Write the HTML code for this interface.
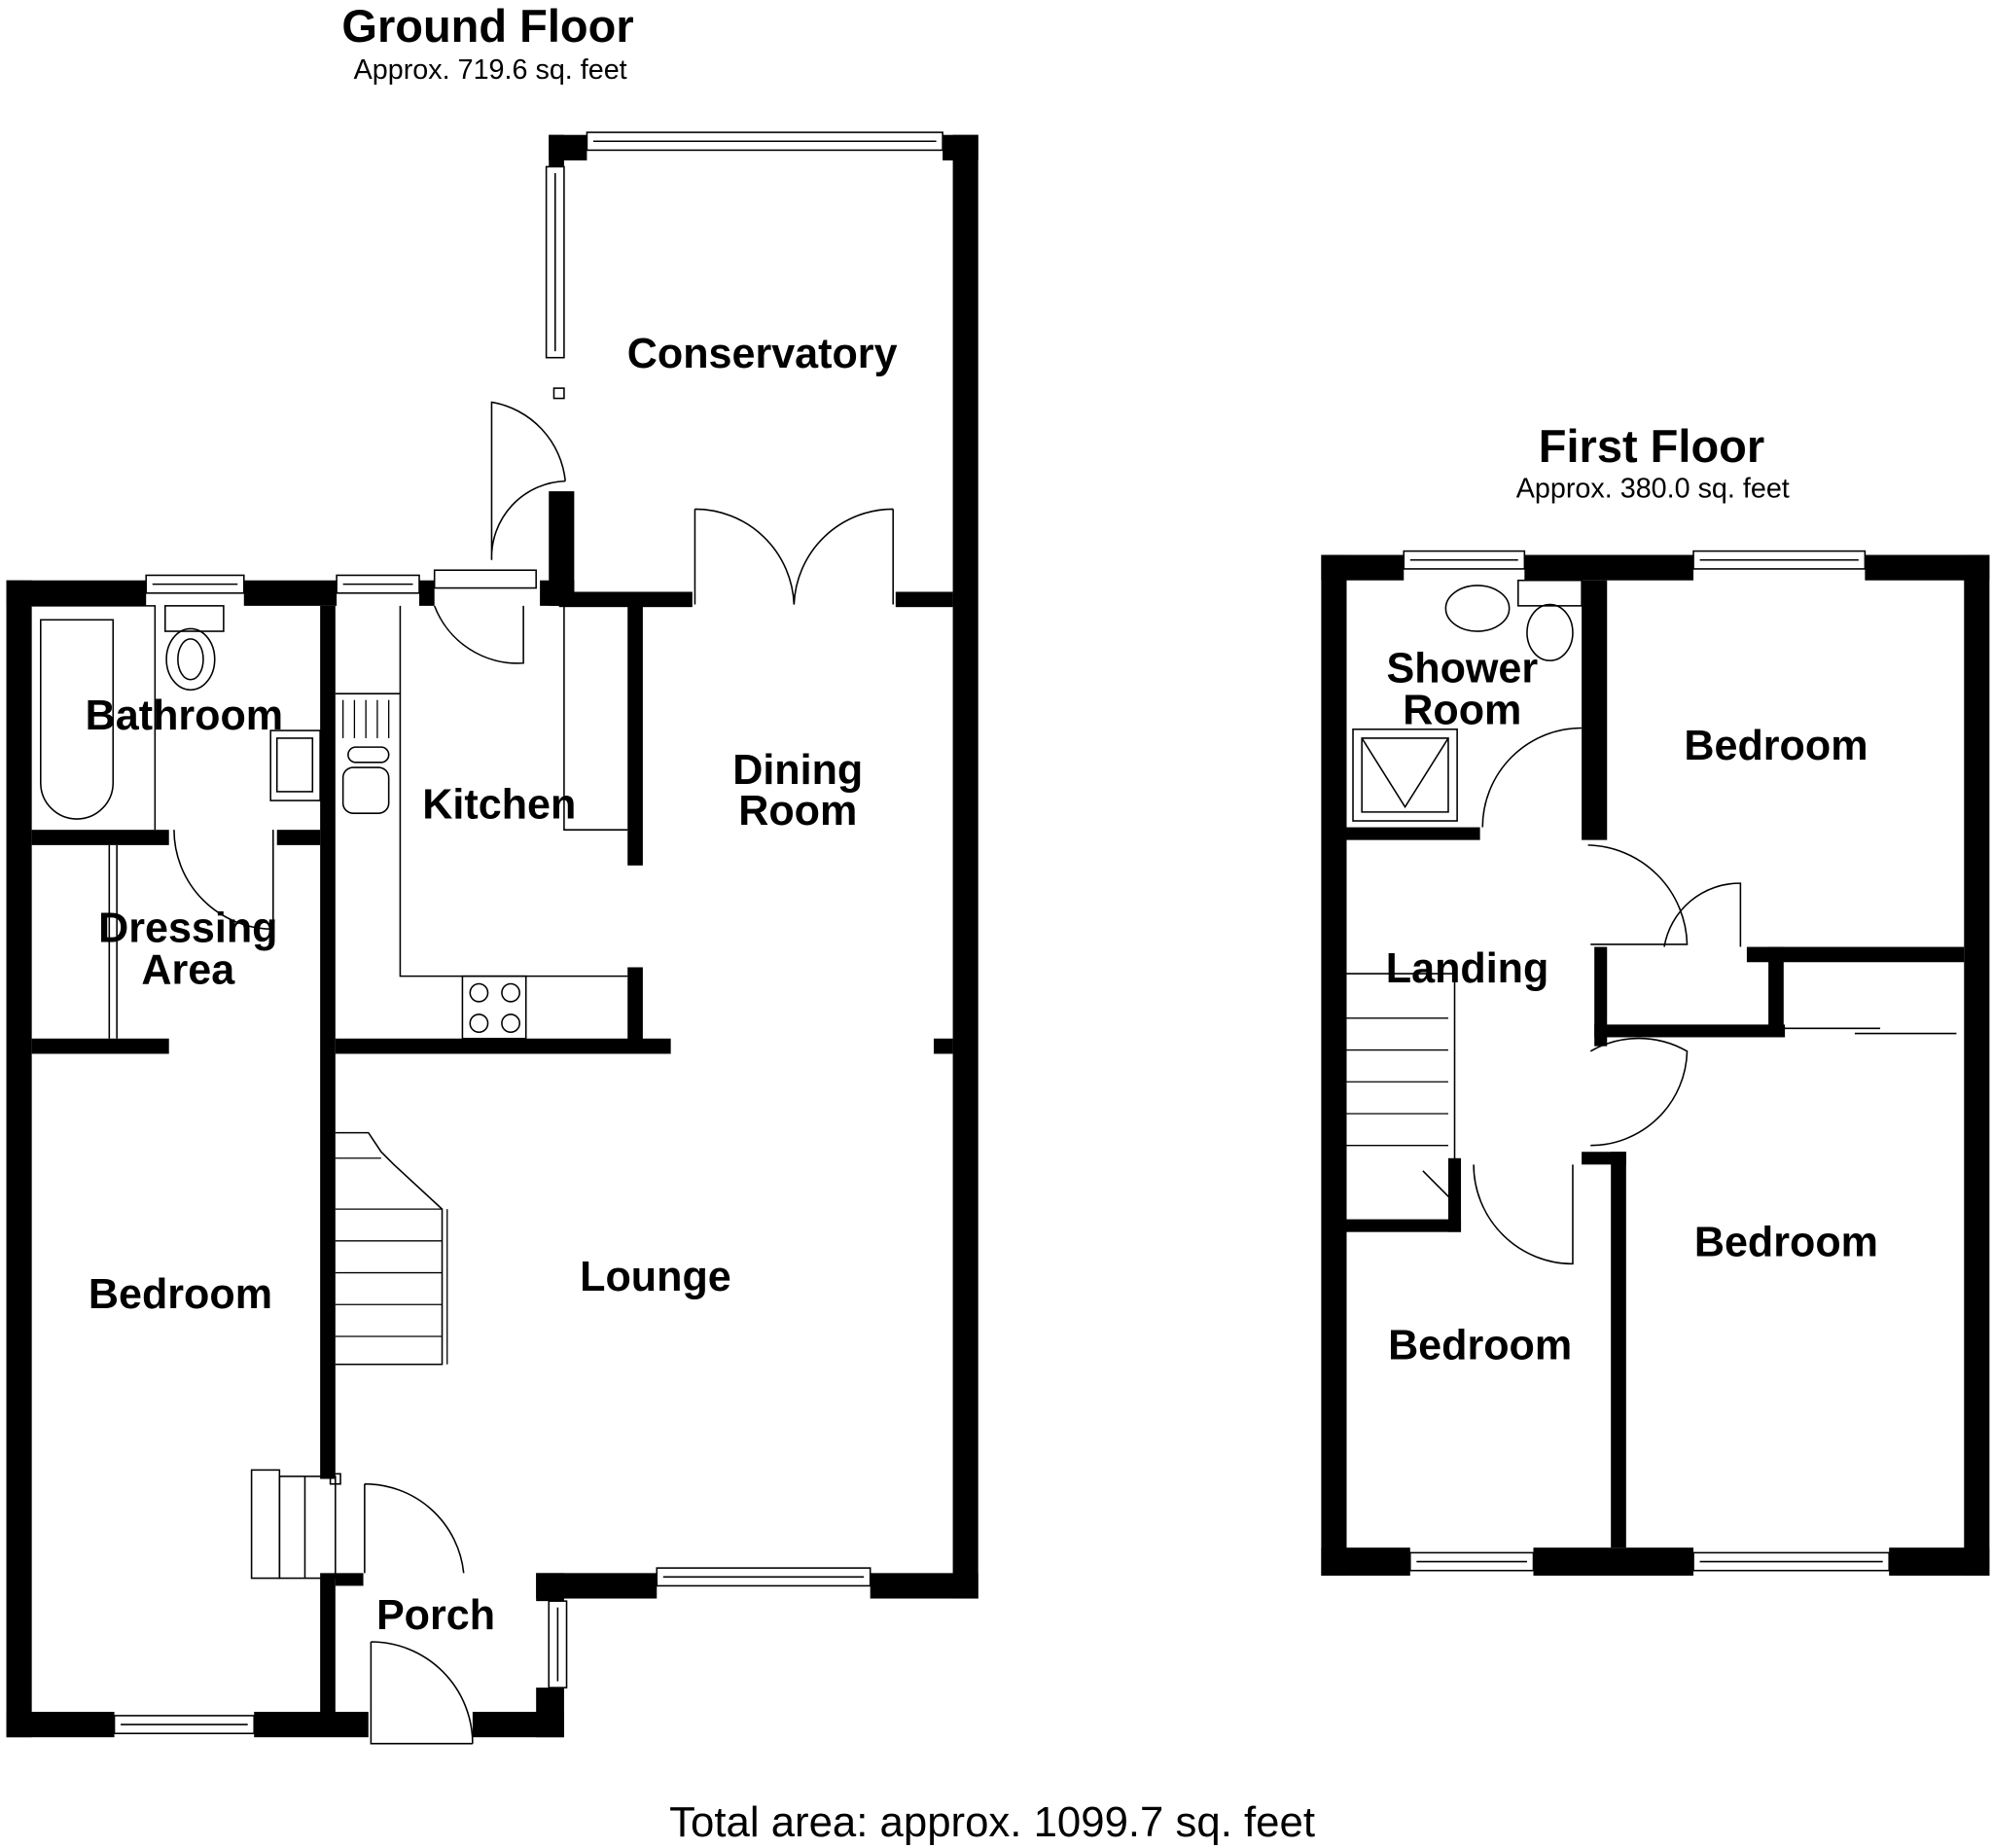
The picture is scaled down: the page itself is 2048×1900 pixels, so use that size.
<!DOCTYPE html>
<html><head><meta charset="utf-8"><style>
html,body{margin:0;padding:0;background:#fff;}
svg{display:block;}
text{font-family:"Liberation Sans",sans-serif;fill:#000;}
.b{font-weight:bold;font-size:33px;}
</style></head><body>
<svg width="2048" height="1900" viewBox="0 0 1568 1452" preserveAspectRatio="none" xmlns="http://www.w3.org/2000/svg">
<rect width="1568" height="1452" fill="#fff"/>
<g fill="#000">
<rect x="5" y="456" width="20" height="909"/>
<rect x="5" y="456" width="110" height="20"/>
<rect x="192" y="456" width="73" height="20"/>
<rect x="330" y="456" width="12" height="20"/>
<rect x="425" y="456" width="27" height="20"/>
<rect x="432" y="386" width="20" height="90"/>
<rect x="432" y="106" width="12" height="25"/>
<rect x="432" y="106" width="30" height="20"/>
<rect x="742" y="106" width="28" height="20"/>
<rect x="750" y="106" width="20" height="1150"/>
<rect x="440" y="465" width="105" height="12"/>
<rect x="705" y="465" width="45" height="12"/>
<rect x="685" y="1236" width="85" height="20"/>
<rect x="422" y="1236" width="95" height="20"/>
<rect x="422" y="1326" width="22" height="39"/>
<rect x="422" y="1236" width="22" height="22"/>
<rect x="5" y="1345" width="85" height="20"/>
<rect x="200" y="1345" width="90" height="20"/>
<rect x="372" y="1345" width="72" height="20"/>
<rect x="252" y="476" width="12" height="686"/>
<rect x="252" y="1236" width="12" height="110"/>
<rect x="264" y="1236" width="22" height="10"/>
<rect x="25" y="652" width="108" height="12"/>
<rect x="218" y="652" width="34" height="12"/>
<rect x="25" y="816" width="108" height="12"/>
<rect x="264" y="816" width="264" height="12"/>
<rect x="494" y="476" width="12" height="204"/>
<rect x="494" y="760" width="12" height="60"/>
<rect x="735" y="816" width="15" height="12"/>
<rect x="1040" y="436" width="20" height="802"/>
<rect x="1546" y="436" width="20" height="802"/>
<rect x="1040" y="436" width="65" height="20"/>
<rect x="1200" y="436" width="133" height="20"/>
<rect x="1468" y="436" width="98" height="20"/>
<rect x="1040" y="1216" width="70" height="22"/>
<rect x="1207" y="1216" width="126" height="22"/>
<rect x="1487" y="1216" width="79" height="22"/>
<rect x="1245" y="456" width="20" height="204"/>
<rect x="1060" y="650" width="105" height="10"/>
<rect x="1375" y="744" width="171" height="12"/>
<rect x="1255" y="744" width="10" height="78"/>
<rect x="1255" y="805" width="150" height="10"/>
<rect x="1392" y="744" width="12" height="70"/>
<rect x="1245" y="905" width="35" height="10"/>
<rect x="1268" y="905" width="12" height="311"/>
<rect x="1060" y="958" width="90" height="10"/>
<rect x="1140" y="910" width="10" height="58"/>
</g>
<g fill="none" stroke="#000" stroke-width="1.2">
<rect x="115" y="452" width="77" height="14"/><line x1="120" y1="459" x2="187" y2="459"/>
<rect x="265" y="452" width="65" height="14"/><line x1="270" y1="459" x2="325" y2="459"/>
<rect x="462" y="104" width="280" height="14"/><line x1="467" y1="111" x2="737" y2="111"/>
<rect x="430" y="131" width="14" height="150"/><line x1="437" y1="136" x2="437" y2="276"/>
<rect x="517" y="1232" width="168" height="14"/><line x1="522" y1="1239" x2="680" y2="1239"/>
<rect x="90" y="1348" width="110" height="14"/><line x1="95" y1="1355" x2="195" y2="1355"/>
<rect x="432" y="1258" width="14" height="68"/><line x1="439" y1="1263" x2="439" y2="1321"/>
<rect x="1105" y="433" width="95" height="14"/><line x1="1110" y1="440" x2="1195" y2="440"/>
<rect x="1333" y="433" width="135" height="14"/><line x1="1338" y1="440" x2="1463" y2="440"/>
<rect x="1110" y="1220" width="97" height="14"/><line x1="1115" y1="1227" x2="1202" y2="1227"/>
<rect x="1333" y="1220" width="154" height="14"/><line x1="1338" y1="1227" x2="1482" y2="1227"/>
<path d="M342 476 A70 70 0 0 0 412 521 L412 476"/>
<rect x="342" y="448" width="80" height="14"/>
<path d="M445 378 A70 70 0 0 0 387 316 L387 440 A60 60 0 0 1 445 378"/>
<rect x="436" y="305" width="8" height="8"/>
<path d="M547 400 L547 475 M547 400 A78 78 0 0 1 625 475 M703 400 L703 475 M703 400 A78 78 0 0 0 625 475"/>
<path d="M137 652 A78 78 0 0 0 215 730 L215 652"/>
<path d="M287 1166 L287 1236 M287 1166 A78 78 0 0 1 365 1236"/>
<path d="M292 1290 L292 1370 L372 1370 M292 1290 A80 80 0 0 1 372 1370"/>
<rect x="198" y="1155" width="22" height="85"/><rect x="220" y="1160" width="44" height="80"/><line x1="240" y1="1160" x2="240" y2="1240"/><rect x="260" y="1158" width="8" height="8"/>
<path d="M315 476 L315 767 L494 767"/>
<path d="M444 476 L444 652 L494 652"/>
<line x1="264" y1="545" x2="315" y2="545"/>
<g stroke-width="1"><line x1="270" y1="550" x2="270" y2="580"/><line x1="279" y1="550" x2="279" y2="580"/><line x1="288" y1="550" x2="288" y2="580"/><line x1="297" y1="550" x2="297" y2="580"/><line x1="306" y1="550" x2="306" y2="580"/></g>
<rect x="274" y="587" width="32" height="12" rx="6"/><rect x="270" y="603" width="36" height="36" rx="8"/>
<rect x="364" y="767" width="50" height="49"/>
<circle cx="377" cy="780" r="7"/><circle cx="402" cy="780" r="7"/><circle cx="377" cy="804" r="7"/><circle cx="402" cy="804" r="7"/>
<path d="M25 476 L122 476 L122 652"/>
<path d="M32 487 L89 487 L89 615 A28 28 0 0 1 32 615 Z"/>
<rect x="130" y="476" width="46" height="20"/><ellipse cx="150" cy="518" rx="19" ry="24"/><ellipse cx="150" cy="518" rx="10" ry="16"/>
<rect x="213" y="574" width="39" height="55"/><rect x="218" y="580" width="28" height="42"/>
<line x1="86" y1="664" x2="86" y2="816"/><line x1="92" y1="664" x2="92" y2="816"/>
<path d="M264 890 L290 890 L300 905 L310 915 L348 950 L348 1072 L264 1072"/>
<g stroke-width="1"><line x1="264" y1="910" x2="300" y2="910"/><line x1="264" y1="950" x2="348" y2="950"/><line x1="264" y1="975" x2="348" y2="975"/><line x1="264" y1="1000" x2="348" y2="1000"/><line x1="264" y1="1025" x2="348" y2="1025"/><line x1="264" y1="1050" x2="348" y2="1050"/><line x1="352" y1="950" x2="352" y2="1072"/></g>
<ellipse cx="1163" cy="478" rx="25" ry="18"/><rect x="1195" y="456" width="50" height="20"/><ellipse cx="1220" cy="497" rx="18" ry="22"/>
<rect x="1065" y="573" width="82" height="72"/><path d="M1072 580 L1140 580 L1140 638 L1072 638 Z M1072 580 L1106 634 L1140 580"/>
<path d="M1167 650 A78 78 0 0 1 1245 572"/>
<path d="M1250 664 A80 80 0 0 1 1328 742 L1252 742"/>
<path d="M1310 744 A60 60 0 0 1 1370 694 L1370 744"/>
<path d="M1252 826 A76 76 0 0 1 1328 826 A76 76 0 0 1 1252 900"/>
<path d="M1160 915 A78 78 0 0 0 1238 993 L1238 915"/>
<path d="M1060 765 L1145 765 L1145 945 L1120 920"/>
<g stroke-width="1"><line x1="1060" y1="800" x2="1140" y2="800"/><line x1="1060" y1="825" x2="1140" y2="825"/><line x1="1060" y1="850" x2="1140" y2="850"/><line x1="1060" y1="875" x2="1140" y2="875"/><line x1="1060" y1="900" x2="1140" y2="900"/></g>
<line x1="1404" y1="808" x2="1480" y2="808"/><line x1="1460" y1="812" x2="1540" y2="812"/>
</g>
<text x="384" y="33" font-weight="bold" text-anchor="middle" font-size="36">Ground Floor</text>
<text x="386" y="62" text-anchor="middle" font-size="22">Approx. 719.6 sq. feet</text>
<text x="1300" y="363" font-weight="bold" text-anchor="middle" font-size="36">First Floor</text>
<text x="1301" y="391" text-anchor="middle" font-size="22">Approx. 380.0 sq. feet</text>
<text x="781" y="1443" text-anchor="middle" font-size="33.5">Total area: approx. 1099.7 sq. feet</text>
<g class="b" text-anchor="middle">
<text x="600" y="289">Conservatory</text>
<text x="145" y="573">Bathroom</text>
<text x="393" y="643">Kitchen</text>
<text x="628" y="616">Dining</text><text x="628" y="648">Room</text>
<text x="148" y="740">Dressing</text><text x="148" y="773">Area</text>
<text x="142" y="1028">Bedroom</text>
<text x="516" y="1014">Lounge</text>
<text x="343" y="1280">Porch</text>
<text x="1151" y="536">Shower</text><text x="1151" y="569">Room</text>
<text x="1398" y="597">Bedroom</text>
<text x="1155" y="772">Landing</text>
<text x="1406" y="987">Bedroom</text>
<text x="1165" y="1068">Bedroom</text>
</g>
</svg>
</body></html>
